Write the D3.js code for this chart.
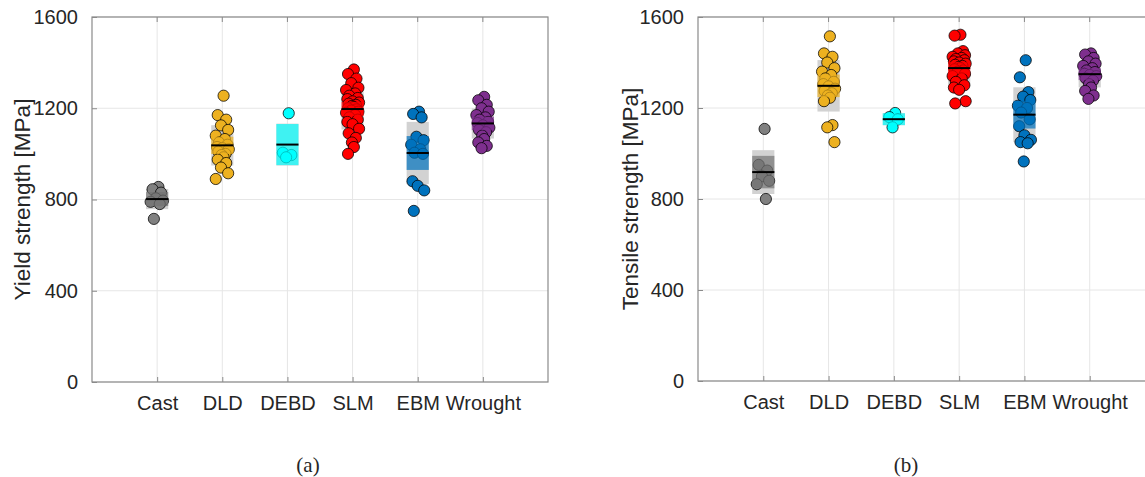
<!DOCTYPE html>
<html>
<head>
<meta charset="utf-8">
<script src="https://cdn.jsdelivr.net/npm/d3@7/dist/d3.min.js"></script>
<style>
  html, body { margin: 0; padding: 0; background: #fff; }
  svg { display: block; }
  text { font-family: "Liberation Sans", Arial, sans-serif; fill: #262626; }
</style>
</head>
<body>
<svg id="chart" width="1145" height="477"></svg>
<script>
// ---- Data ----
const categories = ["Cast", "DLD", "DEBD", "SLM", "EBM", "Wrought"];
const yTicks = [0, 400, 800, 1200, 1600];
const groupColors = ["#808080", "#EDB120", "#00FFFF", "#FF0000", "#0072BD", "#7E2F8E"];

// Yield strength [MPa]
const yieldCast = [855, 845, 830, 805, 795, 790, 780, 715];
const yieldDLD = [1255, 1170, 1150, 1125, 1105, 1080, 1065, 1050, 1040, 1030, 1025, 1020, 1010, 1000, 995, 985, 975, 960, 940, 915, 890];
const yieldDEBD = [1178, 1005, 995, 985];
const yieldSLM = [1370, 1350, 1330, 1310, 1290, 1280, 1265, 1255, 1245, 1240, 1230, 1225, 1220, 1215, 1210, 1205, 1200, 1195, 1190, 1185, 1180, 1170, 1160, 1150, 1140, 1130, 1110, 1090, 1070, 1050, 1030, 1000];
const yieldEBM = [1185, 1175, 1160, 1075, 1060, 1040, 1020, 1005, 1000, 880, 860, 840, 750];
const yieldWrought = [1250, 1235, 1215, 1200, 1185, 1170, 1160, 1150, 1140, 1135, 1125, 1115, 1105, 1095, 1080, 1065, 1050, 1035, 1025];

// Tensile strength [MPa]
const tensileCast = [1108, 950, 925, 900, 880, 865, 800];
const tensileDLD = [1515, 1440, 1425, 1400, 1375, 1360, 1345, 1330, 1315, 1305, 1295, 1285, 1275, 1265, 1255, 1245, 1230, 1125, 1115, 1050];
const tensileDEBD = [1178, 1160, 1150, 1115];
const tensileSLM = [1522, 1518, 1450, 1440, 1432, 1425, 1420, 1415, 1410, 1405, 1400, 1395, 1390, 1385, 1380, 1375, 1370, 1365, 1360, 1350, 1340, 1330, 1315, 1300, 1290, 1280, 1230, 1220];
const tensileEBM = [1410, 1335, 1270, 1250, 1235, 1210, 1200, 1180, 1150, 1120, 1080, 1060, 1050, 1045, 965];
const tensileWrought = [1440, 1435, 1420, 1405, 1395, 1385, 1375, 1365, 1358, 1350, 1345, 1340, 1330, 1320, 1305, 1290, 1275, 1255, 1240];

const yieldGroups = [yieldCast, yieldDLD, yieldDEBD, yieldSLM, yieldEBM, yieldWrought];
const tensileGroups = [tensileCast, tensileDLD, tensileDEBD, tensileSLM, tensileEBM, tensileWrought];

// ---- Drawing ----
const svg = d3.select("#chart");
// deterministic horizontal spread pattern (in category units) for the points
const spread = [0.02, -0.07, 0.06, -0.02, 0.09, -0.1, 0.04, -0.05, 0.08, -0.08, 0.0, 0.1, -0.06, 0.05, -0.01];

function panel(opts) {
  const { left, right, top, bottom, groups, ylabel, ylabelX, caption, captionX } = opts;
  const g = svg.append("g");
  const x = d3.scaleLinear().domain([0, categories.length + 1]).range([left, right]);
  const y = d3.scaleLinear().domain([0, 1600]).range([bottom, top]);

  // grid
  g.append("g").selectAll("line.gy").data(yTicks).join("line")
    .attr("x1", left).attr("x2", right).attr("y1", d => y(d)).attr("y2", d => y(d))
    .attr("stroke", "#e6e6e6").attr("stroke-width", 1);
  g.append("g").selectAll("line.gx").data(categories).join("line")
    .attr("x1", (d, i) => x(i + 1)).attr("x2", (d, i) => x(i + 1))
    .attr("y1", top).attr("y2", bottom)
    .attr("stroke", "#e6e6e6").attr("stroke-width", 1);

  const bw = 0.17;
  groups.forEach((vals, i) => {
    const c = i + 1;
    const m = d3.mean(vals);
    const sd = d3.deviation(vals);
    const ci = 1.96 * sd / Math.sqrt(vals.length);
    const col = groupColors[i];
    const ciCol = i === 0 ? "#737373" : col;
    // SD box
    g.append("rect")
      .attr("x", x(c - bw)).attr("width", x(c + bw) - x(c - bw))
      .attr("y", y(m + sd)).attr("height", y(m - sd) - y(m + sd))
      .attr("fill", "#d2d2d2");
    // points
    g.append("g").selectAll("circle").data(vals).join("circle")
      .attr("cx", (d, k) => x(c + spread[k % spread.length]))
      .attr("cy", d => y(d))
      .attr("r", 5.6)
      .attr("fill", col)
      .attr("stroke", "#000").attr("stroke-opacity", 0.75).attr("stroke-width", 1);
    // CI box
    g.append("rect")
      .attr("x", x(c - bw)).attr("width", x(c + bw) - x(c - bw))
      .attr("y", y(m + ci)).attr("height", y(m - ci) - y(m + ci))
      .attr("fill", ciCol).attr("fill-opacity", 0.7);
    // mean line
    g.append("line")
      .attr("x1", x(c - bw)).attr("x2", x(c + bw))
      .attr("y1", y(m)).attr("y2", y(m))
      .attr("stroke", "#000").attr("stroke-width", 2);
  });

  // axes frame
  g.append("rect").attr("x", left).attr("y", top)
    .attr("width", right - left).attr("height", bottom - top)
    .attr("fill", "none").attr("stroke", "#8a8a8a").attr("stroke-width", 1.2);

  // y axis (ticks inward, labels)
  const ya = d3.axisLeft(y).tickValues(yTicks).tickSize(-5).tickPadding(14).tickFormat(d3.format("d"));
  const yg = g.append("g").attr("transform", `translate(${left},0)`).call(ya);
  yg.select(".domain").remove();
  yg.selectAll(".tick line").attr("stroke", "#8a8a8a");
  yg.selectAll(".tick text").attr("font-size", 20).attr("fill", "#262626")
    .style("font-family", "'Liberation Sans', Arial, sans-serif");

  // x axis
  const xa = d3.axisBottom(x).tickValues(categories.map((d, i) => i + 1))
    .tickSize(-5).tickPadding(14).tickFormat((d) => categories[d - 1]);
  const xg = g.append("g").attr("transform", `translate(0,${bottom})`).call(xa);
  xg.select(".domain").remove();
  xg.selectAll(".tick line").attr("stroke", "#8a8a8a");
  xg.selectAll(".tick text").attr("font-size", 20).attr("fill", "#262626")
    .style("font-family", "'Liberation Sans', Arial, sans-serif");
  // top ticks
  g.append("g").selectAll("line").data(categories).join("line")
    .attr("x1", (d, i) => x(i + 1)).attr("x2", (d, i) => x(i + 1))
    .attr("y1", top).attr("y2", top + 5).attr("stroke", "#8a8a8a");

  // y label
  g.append("text")
    .attr("transform", `translate(${ylabelX},${(top + bottom) / 2}) rotate(-90)`)
    .attr("text-anchor", "middle").attr("dominant-baseline", "middle")
    .attr("font-size", 22.5).text(ylabel);

  // caption
  g.append("text").attr("x", captionX).attr("y", 472)
    .attr("text-anchor", "middle")
    .style("font-family", "'Liberation Serif', 'Times New Roman', serif")
    .attr("font-size", 21).text(caption);
}

panel({ left: 92, right: 548, top: 17, bottom: 382, groups: yieldGroups,
  ylabel: "Yield strength [MPa]", ylabelX: 24, caption: "(a)", captionX: 308 });
panel({ left: 698, right: 1155, top: 17, bottom: 381, groups: tensileGroups,
  ylabel: "Tensile strength [MPa]", ylabelX: 632, caption: "(b)", captionX: 906 });
</script>
</body>
</html>
